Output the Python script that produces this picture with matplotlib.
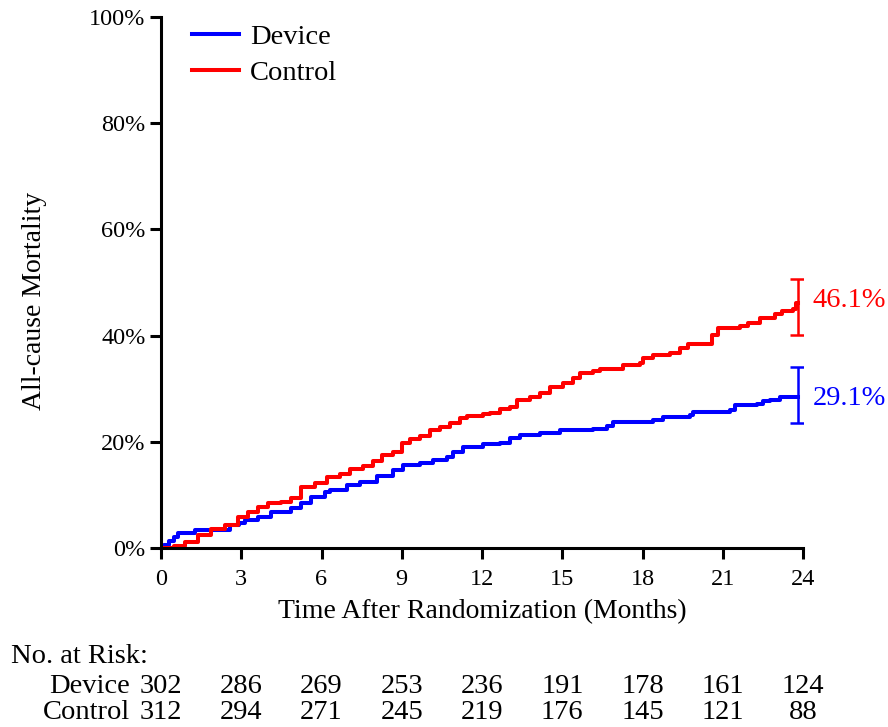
import matplotlib.pyplot as plt
import numpy as np

plt.rcParams['font.family'] = ['Liberation Serif', 'DejaVu Serif']

# Kaplan-Meier style cumulative mortality (month, %)
device_t = [0, 0.1, 0.3, 0.5, 0.64, 1.26, 2.57, 2.9, 3.13, 3.63, 4.12, 4.87, 5.25,
            5.62, 6.12, 6.32, 6.94, 7.44, 8.06, 8.68, 9.06, 9.68, 10.18, 10.68,
            10.93, 11.3, 12.05, 12.67, 13.05, 13.42, 14.17, 14.9, 16.16, 16.66,
            16.9, 18.4, 18.78, 19.78, 19.9, 21.27, 21.46, 22.27, 22.5, 22.77,
            23.14, 23.8]
device_y = [0, 0.6, 1.3, 2.0, 2.8, 3.3, 4.3, 4.8, 5.3, 5.9, 6.8, 7.5, 8.4,
            9.7, 10.6, 10.9, 11.9, 12.5, 13.6, 14.7, 15.6, 16.1, 16.6, 17.1,
            18.1, 19.0, 19.5, 19.8, 20.8, 21.3, 21.7, 22.2, 22.5, 23.0,
            23.8, 24.2, 24.6, 25.0, 25.7, 26.0, 26.9, 27.2, 27.6, 27.9,
            28.4, 28.4]

control_t = [0, 0.5, 0.88, 1.38, 1.88, 2.38, 2.88, 3.25, 3.63, 4.0, 4.5, 4.87,
             5.25, 5.75, 6.19, 6.69, 7.07, 7.56, 7.94, 8.25, 8.68, 9.0, 9.31,
             9.68, 10.06, 10.43, 10.8, 11.18, 11.43, 12.05, 12.3, 12.67, 13.05,
             13.3, 13.8, 14.17, 14.54, 15.04, 15.42, 15.66, 16.16, 16.41, 17.28,
             17.9, 18.03, 18.4, 19.03, 19.4, 19.71, 20.59, 20.83, 21.64, 21.96,
             22.39, 22.95, 23.2, 23.64, 23.72, 23.8]
control_y = [0, 0.3, 1.2, 2.4, 3.5, 4.3, 5.8, 6.8, 7.8, 8.4, 8.7, 9.4,
             11.5, 12.2, 13.3, 13.9, 14.8, 15.4, 16.3, 17.5, 18.1, 19.7, 20.5,
             21.1, 22.2, 22.8, 23.6, 24.4, 24.9, 25.2, 25.4, 26.1, 26.6,
             27.9, 28.5, 29.1, 30.4, 31.1, 32.0, 32.9, 33.4, 33.8, 34.5,
             34.8, 35.7, 36.3, 36.8, 37.6, 38.5, 40.1, 41.4, 41.8, 42.3,
             43.4, 44.1, 44.7, 45.1, 46.1, 46.1]

# final estimates with 95% CI
device_end, device_lo, device_hi = 29.1, 23.6, 34.1
control_end, control_lo, control_hi = 46.1, 40.2, 50.6
ci_month = 23.8

months = [0, 3, 6, 9, 12, 15, 18, 21, 24]
device_risk = [302, 286, 269, 253, 236, 191, 178, 161, 124]
control_risk = [312, 294, 271, 245, 219, 176, 145, 121, 88]

fs = 20.5

fig = plt.figure(figsize=(8.88, 7.27), dpi=100)
ax = fig.add_axes([0.1813, 0.2462, 0.7230, 0.7304])

ax.plot(device_t, device_y, drawstyle='steps-post', color='#0000ff', lw=2.9,
        label='Device')
ax.plot(control_t, control_y, drawstyle='steps-post', color='#ff0000', lw=2.9,
        label='Control')

ax.errorbar([ci_month], [device_end],
            yerr=[[device_end - device_lo], [device_hi - device_end]],
            fmt='none', ecolor='#0000ff', elinewidth=1.8, capsize=6, capthick=1.8)
ax.errorbar([ci_month], [control_end],
            yerr=[[control_end - control_lo], [control_hi - control_end]],
            fmt='none', ecolor='#ff0000', elinewidth=1.8, capsize=6, capthick=1.8)
ax.text(24.35, control_end + 0.6, f'{control_end}%', color='#ff0000', fontsize=fs,
        va='center', ha='left', clip_on=False)
ax.text(24.35, device_end - 1.0, f'{device_end}%', color='#0000ff', fontsize=fs,
        va='center', ha='left', clip_on=False)

ax.set_xlim(0, 24)
ax.set_ylim(0, 100)
ax.set_xticks(months)
ax.set_yticks(range(0, 101, 20))
ax.set_yticklabels([f'{v}%' for v in range(0, 101, 20)])
ax.spines['top'].set_visible(False)
ax.spines['right'].set_visible(False)
for s in ['left', 'bottom']:
    ax.spines[s].set_linewidth(2.2)
ax.tick_params(axis='both', width=2.2, length=8, labelsize=17.5, color='black')
ax.tick_params(axis='x', pad=7)
ax.tick_params(axis='y', pad=3)

ax.set_xlabel('Time After Randomization (Months)', fontsize=20, labelpad=7)
ax.set_ylabel('All-cause Mortality', fontsize=20)
ax.yaxis.set_label_coords(-0.178, 0.465)

ax.legend(loc='upper left', bbox_to_anchor=(0.008, 1.035), frameon=False,
          fontsize=fs, handlelength=1.65, handletextpad=0.4, labelspacing=0.36)

# number at risk table
trans = ax.get_xaxis_transform()
ax.text(-5.6, -0.205, 'No. at Risk:', transform=trans, fontsize=fs,
        ha='left', va='center', clip_on=False)
ax.text(-1.15, -0.26, 'Device', transform=trans, fontsize=fs,
        ha='right', va='center', clip_on=False)
ax.text(-1.15, -0.309, 'Control', transform=trans, fontsize=fs,
        ha='right', va='center', clip_on=False)
for m, d, c in zip(months, device_risk, control_risk):
    ax.text(m, -0.26, str(d), transform=trans, fontsize=fs,
            ha='center', va='center', clip_on=False)
    ax.text(m, -0.309, str(c), transform=trans, fontsize=fs,
            ha='center', va='center', clip_on=False)

fig.savefig('out.png', dpi=100)
